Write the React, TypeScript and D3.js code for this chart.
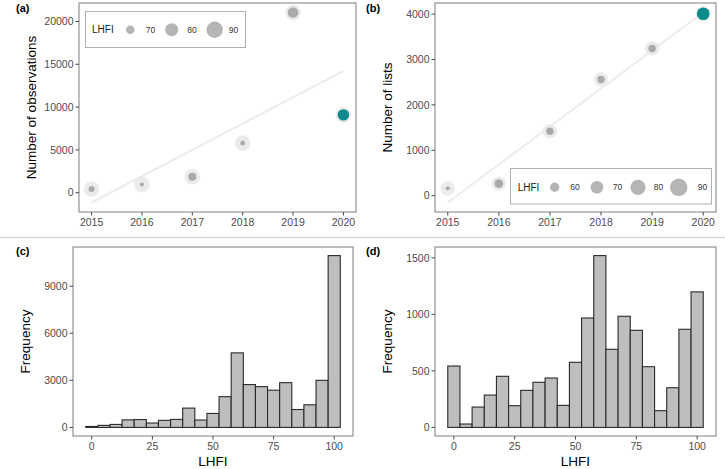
import React from "react";
import * as d3 from "d3";

const years = [2015, 2016, 2017, 2018, 2019, 2020];
const observations = [430, 970, 1860, 5790, 21050, 9090];
const obsLHFI = [66.1, 64.0, 69.0, 64.6, 73.9, 75.8];
const lists = [162, 265, 1419, 2559, 3243, 4007];
const listsLHFI = [50, 58, 55.4, 55.4, 55.4, 70];

const obsTicks = [0, 5000, 10000, 15000, 20000];
const listTicks = [0, 1000, 2000, 3000, 4000];
const obsLegend = [70, 80, 90];
const listLegend = [60, 70, 80, 90];

const binCenters = [0, 5, 10, 15, 20, 25, 30, 35, 40, 45, 50, 55, 60, 65, 70, 75, 80, 85, 90, 95, 100];
const histObs = [60, 130, 190, 480, 500, 280, 450, 510, 1230, 470, 890, 1960, 4750, 2730, 2600, 2370, 2850, 1140, 1440, 3000, 10950];
const histLists = [543, 30, 180, 286, 452, 192, 328, 399, 437, 195, 576, 968, 1520, 691, 983, 859, 537, 148, 351, 868, 1199];
const histXTicks = [0, 25, 50, 75, 100];
const histObsTicks = [0, 3000, 6000, 9000];
const histListTicks = [0, 500, 1000, 1500];

const FONT = "'Liberation Sans', Arial, Helvetica, sans-serif";
const TICK_COL = "#4d4d4d";
const BOX_COL = "#7f7f7f";
const TEAL = "#0a8a8c";
const DOT = "#aaaaaa";
const HALO = "#e9e9e9";
const KEY = "#b5b5b5";

type Box = { x0: number; x1: number; y0: number; y1: number };

function expand(lo: number, hi: number, m = 0.05): [number, number] {
  const r = hi - lo;
  return [lo - r * m, hi + r * m];
}

function fit(xs: number[], ys: number[]) {
  const mx = d3.mean(xs)!;
  const my = d3.mean(ys)!;
  let sxy = 0, sxx = 0;
  xs.forEach((x, i) => {
    sxy += (x - mx) * (ys[i] - my);
    sxx += (x - mx) * (x - mx);
  });
  const b = sxy / sxx;
  const a = my - b * mx;
  return (x: number) => a + b * x;
}

function Axes({ box, x, y, xTicks, yTicks, xFmt, yTitle, xTitle, label }: any) {
  const cx = (box.x0 + box.x1) / 2;
  const cy = (box.y0 + box.y1) / 2;
  return (
    <g fontFamily={FONT}>
      <rect x={box.x0} y={box.y0} width={box.x1 - box.x0} height={box.y1 - box.y0} fill="none" stroke={BOX_COL} strokeWidth={1} />
      {yTicks.map((t: number) => (
        <g key={"y" + t}>
          <line x1={box.x0 - 3.5} x2={box.x0} y1={y(t)} y2={y(t)} stroke="#333" strokeWidth={0.9} />
          <text x={box.x0 - 5.5} y={y(t)} dy="0.35em" textAnchor="end" fontSize={10.5} fill={TICK_COL}>{t}</text>
        </g>
      ))}
      {xTicks.map((t: number) => (
        <g key={"x" + t}>
          <line x1={x(t)} x2={x(t)} y1={box.y1} y2={box.y1 + 3.5} stroke="#333" strokeWidth={0.9} />
          <text x={x(t)} y={box.y1 + 13.5} textAnchor="middle" fontSize={10.5} fill={TICK_COL}>{xFmt ? xFmt(t) : t}</text>
        </g>
      ))}
      <text transform={`translate(${box.x0 - 43},${cy}) rotate(-90)`} textAnchor="middle" fontSize={13.5} fill="#000">{yTitle}</text>
      {xTitle && (
        <text x={cx} y={box.y1 + 30} textAnchor="middle" fontSize={13.5} fill="#000">{xTitle}</text>
      )}
      <text x={label.x} y={label.y} fontSize={11} fontWeight="bold" fill="#000">{label.t}</text>
    </g>
  );
}

function ScatterPanel({ box, values, lhfi, ticks, yTitle, label, legend, sizeDom, sizeRange, haloR, legendBox, legendLayout }: any) {
  const x = d3.scaleLinear().domain(expand(2015, 2020)).range([box.x0, box.x1]);
  const f = fit(years, values);
  const lineVals = [f(years[0]), f(years[years.length - 1])];
  const [lo, hi] = d3.extent([...values, ...lineVals]) as [number, number];
  const y = d3.scaleLinear().domain(expand(lo, hi)).range([box.y1, box.y0]);
  const area = d3.scaleLinear().domain(sizeDom).range(sizeRange);
  const r = (v: number) => Math.sqrt(Math.max(0.5, area(v)));
  const line = d3.line<number>().x((d) => x(d)).y((d) => y(f(d)));
  const last = years.length - 1;
  return (
    <g>
      <Axes box={box} x={x} y={y} xTicks={years} yTicks={ticks} yTitle={yTitle} label={label} />
      <path d={line([years[0], years[last]])!} stroke="#ececec" strokeWidth={2} fill="none" />
      {years.map((yr, i) => (
        <circle key={"h" + yr} cx={x(yr)} cy={y(values[i])} r={haloR} fill={HALO} opacity={0.9} />
      ))}
      {years.map((yr, i) => (
        <circle key={"d" + yr} cx={x(yr)} cy={y(values[i])} r={r(lhfi[i])} fill={i === last ? TEAL : DOT} />
      ))}
      <g fontFamily={FONT}>
        <rect x={legendBox.x} y={legendBox.y} width={legendBox.w} height={legendBox.h} fill="#fff" stroke="#b0b0b0" strokeWidth={1} />
        <text x={legendLayout.titleX} y={legendLayout.cy} dy="0.35em" fontSize={10} fill="#222">LHFI</text>
        {legend.map((v: number, i: number) => (
          <g key={"k" + v}>
            <circle cx={legendLayout.keyX[i]} cy={legendLayout.cy} r={r(v)} fill={KEY} />
            <text x={legendLayout.labX[i]} y={legendLayout.cy} dy="0.35em" fontSize={8.5} fill="#333">{v}</text>
          </g>
        ))}
      </g>
    </g>
  );
}

function HistPanel({ box, counts, ticks, label }: any) {
  const x = d3.scaleLinear().domain(expand(-2.5, 102.5)).range([box.x0, box.x1]);
  const maxC = d3.max(counts as number[])!;
  const y = d3.scaleLinear().domain(expand(0, maxC)).range([box.y1, box.y0]);
  return (
    <g>
      {binCenters.map((c, i) => (
        <rect key={c} x={x(c - 2.5)} y={y(counts[i])} width={x(c + 2.5) - x(c - 2.5)} height={y(0) - y(counts[i])}
          fill="#bebebe" stroke="#2a2a2a" strokeWidth={1.1} />
      ))}
      <Axes box={box} x={x} y={y} xTicks={histXTicks} yTicks={ticks} yTitle="Frequency" xTitle="LHFI" label={label} />
    </g>
  );
}

export default function App() {
  const A: Box = { x0: 79, x1: 356, y0: 3, y1: 212 };
  const B: Box = { x0: 435, x1: 716, y0: 3, y1: 212 };
  const C: Box = { x0: 73, x1: 353, y0: 247, y1: 436 };
  const D: Box = { x0: 435, x1: 716, y0: 247, y1: 436 };
  return (
    <svg width={725} height={469} style={{ position: "absolute", left: 0, top: 0, background: "#fff" }}>
      <rect x={0} y={0} width={725} height={469} fill="#fff" />
      <ScatterPanel box={A} values={observations} lhfi={obsLHFI} ticks={obsTicks} yTitle="Number of observations"
        label={{ x: 16, y: 12, t: "(a)" }} legend={obsLegend} sizeDom={[70, 90]} sizeRange={[18.5, 67]} haloR={7.8}
        legendBox={{ x: 85.5, y: 11.5, w: 160, h: 36 }}
        legendLayout={{ titleX: 92, cy: 29.7, keyX: [130.3, 171.7, 214.7], labX: [145.7, 187.3, 228.7] }} />
      <ScatterPanel box={B} values={lists} lhfi={listsLHFI} ticks={listTicks} yTitle="Number of lists"
        label={{ x: 366, y: 12, t: "(b)" }} legend={listLegend} sizeDom={[60, 90]} sizeRange={[22, 76]} haloR={7.2}
        legendBox={{ x: 510.5, y: 168.5, w: 201, h: 35.5 }}
        legendLayout={{ titleX: 517.7, cy: 187.3, keyX: [554.7, 597, 638, 678.7], labX: [570.3, 612.7, 653.7, 697.7] }} />
      <line x1={0} x2={725} y1={237.5} y2={237.5} stroke="#d6d6d6" strokeWidth={1.5} />
      <HistPanel box={C} counts={histObs} ticks={histObsTicks} label={{ x: 16, y: 255, t: "(c)" }} />
      <HistPanel box={D} counts={histLists} ticks={histListTicks} label={{ x: 366, y: 255, t: "(d)" }} />
    </svg>
  );
}
